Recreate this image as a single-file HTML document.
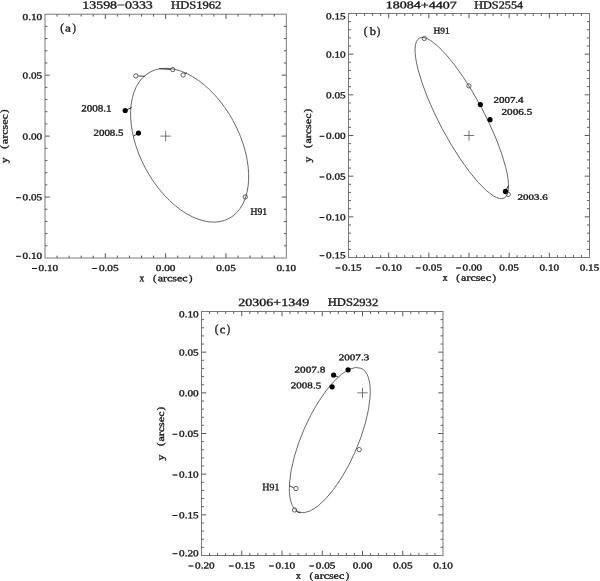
<!DOCTYPE html>
<html><head><meta charset="utf-8"><title>Orbits</title><style>
html,body{margin:0;padding:0;background:#fff;width:600px;height:581px;overflow:hidden}
svg{display:block;filter:grayscale(1)}
text{font-family:"Liberation Serif",serif;stroke:#1a1a1a;stroke-width:0.35px}
</style></head><body>
<svg width="600" height="581" viewBox="0 0 600 581">
<rect x="45.0" y="14.2" width="241.30" height="243.80" fill="none" stroke="#7a7a7a" stroke-width="1"/>
<path d="M57.06 258.00v-2.4M57.06 14.20v2.4M69.13 258.00v-2.4M69.13 14.20v2.4M81.19 258.00v-2.4M81.19 14.20v2.4M93.26 258.00v-2.4M93.26 14.20v2.4M105.33 258.00v-4.8M105.33 14.20v4.8M117.39 258.00v-2.4M117.39 14.20v2.4M129.46 258.00v-2.4M129.46 14.20v2.4M141.52 258.00v-2.4M141.52 14.20v2.4M153.58 258.00v-2.4M153.58 14.20v2.4M165.65 258.00v-4.8M165.65 14.20v4.8M177.72 258.00v-2.4M177.72 14.20v2.4M189.78 258.00v-2.4M189.78 14.20v2.4M201.84 258.00v-2.4M201.84 14.20v2.4M213.91 258.00v-2.4M213.91 14.20v2.4M225.97 258.00v-4.8M225.97 14.20v4.8M238.04 258.00v-2.4M238.04 14.20v2.4M250.11 258.00v-2.4M250.11 14.20v2.4M262.17 258.00v-2.4M262.17 14.20v2.4M274.24 258.00v-2.4M274.24 14.20v2.4M45.00 245.81h2.4M286.30 245.81h-2.4M45.00 233.62h2.4M286.30 233.62h-2.4M45.00 221.43h2.4M286.30 221.43h-2.4M45.00 209.24h2.4M286.30 209.24h-2.4M45.00 197.05h4.8M286.30 197.05h-4.8M45.00 184.86h2.4M286.30 184.86h-2.4M45.00 172.67h2.4M286.30 172.67h-2.4M45.00 160.48h2.4M286.30 160.48h-2.4M45.00 148.29h2.4M286.30 148.29h-2.4M45.00 136.10h4.8M286.30 136.10h-4.8M45.00 123.91h2.4M286.30 123.91h-2.4M45.00 111.72h2.4M286.30 111.72h-2.4M45.00 99.53h2.4M286.30 99.53h-2.4M45.00 87.34h2.4M286.30 87.34h-2.4M45.00 75.15h4.8M286.30 75.15h-4.8M45.00 62.96h2.4M286.30 62.96h-2.4M45.00 50.77h2.4M286.30 50.77h-2.4M45.00 38.58h2.4M286.30 38.58h-2.4M45.00 26.39h2.4M286.30 26.39h-2.4" stroke="#5a5a5a" stroke-width="1" fill="none"/>
<rect x="348.5" y="13.5" width="241.00" height="244.00" fill="none" stroke="#7a7a7a" stroke-width="1"/>
<path d="M356.53 257.50v-2.4M356.53 13.50v2.4M364.57 257.50v-2.4M364.57 13.50v2.4M372.60 257.50v-2.4M372.60 13.50v2.4M380.63 257.50v-2.4M380.63 13.50v2.4M388.67 257.50v-4.8M388.67 13.50v4.8M396.70 257.50v-2.4M396.70 13.50v2.4M404.73 257.50v-2.4M404.73 13.50v2.4M412.77 257.50v-2.4M412.77 13.50v2.4M420.80 257.50v-2.4M420.80 13.50v2.4M428.83 257.50v-4.8M428.83 13.50v4.8M436.87 257.50v-2.4M436.87 13.50v2.4M444.90 257.50v-2.4M444.90 13.50v2.4M452.93 257.50v-2.4M452.93 13.50v2.4M460.97 257.50v-2.4M460.97 13.50v2.4M469.00 257.50v-4.8M469.00 13.50v4.8M477.03 257.50v-2.4M477.03 13.50v2.4M485.07 257.50v-2.4M485.07 13.50v2.4M493.10 257.50v-2.4M493.10 13.50v2.4M501.13 257.50v-2.4M501.13 13.50v2.4M509.17 257.50v-4.8M509.17 13.50v4.8M517.20 257.50v-2.4M517.20 13.50v2.4M525.23 257.50v-2.4M525.23 13.50v2.4M533.27 257.50v-2.4M533.27 13.50v2.4M541.30 257.50v-2.4M541.30 13.50v2.4M549.33 257.50v-4.8M549.33 13.50v4.8M557.37 257.50v-2.4M557.37 13.50v2.4M565.40 257.50v-2.4M565.40 13.50v2.4M573.43 257.50v-2.4M573.43 13.50v2.4M581.47 257.50v-2.4M581.47 13.50v2.4M348.50 249.37h2.4M589.50 249.37h-2.4M348.50 241.23h2.4M589.50 241.23h-2.4M348.50 233.10h2.4M589.50 233.10h-2.4M348.50 224.97h2.4M589.50 224.97h-2.4M348.50 216.83h4.8M589.50 216.83h-4.8M348.50 208.70h2.4M589.50 208.70h-2.4M348.50 200.57h2.4M589.50 200.57h-2.4M348.50 192.43h2.4M589.50 192.43h-2.4M348.50 184.30h2.4M589.50 184.30h-2.4M348.50 176.17h4.8M589.50 176.17h-4.8M348.50 168.03h2.4M589.50 168.03h-2.4M348.50 159.90h2.4M589.50 159.90h-2.4M348.50 151.77h2.4M589.50 151.77h-2.4M348.50 143.63h2.4M589.50 143.63h-2.4M348.50 135.50h4.8M589.50 135.50h-4.8M348.50 127.37h2.4M589.50 127.37h-2.4M348.50 119.23h2.4M589.50 119.23h-2.4M348.50 111.10h2.4M589.50 111.10h-2.4M348.50 102.97h2.4M589.50 102.97h-2.4M348.50 94.83h4.8M589.50 94.83h-4.8M348.50 86.70h2.4M589.50 86.70h-2.4M348.50 78.57h2.4M589.50 78.57h-2.4M348.50 70.43h2.4M589.50 70.43h-2.4M348.50 62.30h2.4M589.50 62.30h-2.4M348.50 54.17h4.8M589.50 54.17h-4.8M348.50 46.03h2.4M589.50 46.03h-2.4M348.50 37.90h2.4M589.50 37.90h-2.4M348.50 29.77h2.4M589.50 29.77h-2.4M348.50 21.63h2.4M589.50 21.63h-2.4" stroke="#5a5a5a" stroke-width="1" fill="none"/>
<rect x="201.5" y="311.5" width="241.50" height="244.00" fill="none" stroke="#7a7a7a" stroke-width="1"/>
<path d="M209.55 555.50v-2.4M209.55 311.50v2.4M217.60 555.50v-2.4M217.60 311.50v2.4M225.65 555.50v-2.4M225.65 311.50v2.4M233.70 555.50v-2.4M233.70 311.50v2.4M241.75 555.50v-4.8M241.75 311.50v4.8M249.80 555.50v-2.4M249.80 311.50v2.4M257.85 555.50v-2.4M257.85 311.50v2.4M265.90 555.50v-2.4M265.90 311.50v2.4M273.95 555.50v-2.4M273.95 311.50v2.4M282.00 555.50v-4.8M282.00 311.50v4.8M290.05 555.50v-2.4M290.05 311.50v2.4M298.10 555.50v-2.4M298.10 311.50v2.4M306.15 555.50v-2.4M306.15 311.50v2.4M314.20 555.50v-2.4M314.20 311.50v2.4M322.25 555.50v-4.8M322.25 311.50v4.8M330.30 555.50v-2.4M330.30 311.50v2.4M338.35 555.50v-2.4M338.35 311.50v2.4M346.40 555.50v-2.4M346.40 311.50v2.4M354.45 555.50v-2.4M354.45 311.50v2.4M362.50 555.50v-4.8M362.50 311.50v4.8M370.55 555.50v-2.4M370.55 311.50v2.4M378.60 555.50v-2.4M378.60 311.50v2.4M386.65 555.50v-2.4M386.65 311.50v2.4M394.70 555.50v-2.4M394.70 311.50v2.4M402.75 555.50v-4.8M402.75 311.50v4.8M410.80 555.50v-2.4M410.80 311.50v2.4M418.85 555.50v-2.4M418.85 311.50v2.4M426.90 555.50v-2.4M426.90 311.50v2.4M434.95 555.50v-2.4M434.95 311.50v2.4M201.50 547.37h2.4M443.00 547.37h-2.4M201.50 539.23h2.4M443.00 539.23h-2.4M201.50 531.10h2.4M443.00 531.10h-2.4M201.50 522.97h2.4M443.00 522.97h-2.4M201.50 514.83h4.8M443.00 514.83h-4.8M201.50 506.70h2.4M443.00 506.70h-2.4M201.50 498.57h2.4M443.00 498.57h-2.4M201.50 490.43h2.4M443.00 490.43h-2.4M201.50 482.30h2.4M443.00 482.30h-2.4M201.50 474.17h4.8M443.00 474.17h-4.8M201.50 466.03h2.4M443.00 466.03h-2.4M201.50 457.90h2.4M443.00 457.90h-2.4M201.50 449.77h2.4M443.00 449.77h-2.4M201.50 441.63h2.4M443.00 441.63h-2.4M201.50 433.50h4.8M443.00 433.50h-4.8M201.50 425.37h2.4M443.00 425.37h-2.4M201.50 417.23h2.4M443.00 417.23h-2.4M201.50 409.10h2.4M443.00 409.10h-2.4M201.50 400.97h2.4M443.00 400.97h-2.4M201.50 392.83h4.8M443.00 392.83h-4.8M201.50 384.70h2.4M443.00 384.70h-2.4M201.50 376.57h2.4M443.00 376.57h-2.4M201.50 368.43h2.4M443.00 368.43h-2.4M201.50 360.30h2.4M443.00 360.30h-2.4M201.50 352.17h4.8M443.00 352.17h-4.8M201.50 344.03h2.4M443.00 344.03h-2.4M201.50 335.90h2.4M443.00 335.90h-2.4M201.50 327.77h2.4M443.00 327.77h-2.4M201.50 319.63h2.4M443.00 319.63h-2.4" stroke="#5a5a5a" stroke-width="1" fill="none"/>
<ellipse cx="189.64" cy="145.21" rx="83.18" ry="49.86" transform="rotate(-118.37 189.64 145.21)" fill="none" stroke="#606060" stroke-width="0.85"/>
<ellipse cx="461.80" cy="118.10" rx="90.50" ry="22.28" transform="rotate(-117.94 461.80 118.10)" fill="none" stroke="#606060" stroke-width="0.85"/>
<ellipse cx="329.79" cy="440.12" rx="78.36" ry="27.93" transform="rotate(-66.42 329.79 440.12)" fill="none" stroke="#606060" stroke-width="0.85"/>
<path d="M160.45 136.10h10.4M165.65 130.90v10.4" stroke="#666" stroke-width="0.9"/>
<path d="M463.80 135.50h10.4M469.00 130.30v10.4" stroke="#666" stroke-width="0.9"/>
<path d="M357.30 392.83h10.4M362.50 387.63v10.4" stroke="#666" stroke-width="0.9"/>
<line x1="138.2" y1="76.0" x2="144.8" y2="76.3" stroke="#222" stroke-width="0.9"/>
<circle cx="135.8" cy="75.9" r="2.15" fill="none" stroke="#3a3a3a" stroke-width="0.8"/>
<line x1="159" y1="68.7" x2="170.5" y2="69.4" stroke="#222" stroke-width="0.9"/>
<circle cx="172.8" cy="69.6" r="2.15" fill="none" stroke="#3a3a3a" stroke-width="0.8"/>
<line x1="185.2" y1="73.6" x2="186.7" y2="72.8" stroke="#222" stroke-width="0.9"/>
<circle cx="183.1" cy="75.0" r="2.15" fill="none" stroke="#3a3a3a" stroke-width="0.8"/>
<circle cx="245.3" cy="196.9" r="2.15" fill="none" stroke="#3a3a3a" stroke-width="0.8"/>
<line x1="125.2" y1="110.5" x2="131.6" y2="107.6" stroke="#222" stroke-width="0.9"/>
<circle cx="125.2" cy="110.5" r="2.6" fill="#000"/>
<line x1="138.5" y1="133.1" x2="133.4" y2="136.2" stroke="#222" stroke-width="0.9"/>
<circle cx="138.5" cy="133.1" r="2.6" fill="#000"/>
<circle cx="424.3" cy="38.5" r="2.15" fill="none" stroke="#3a3a3a" stroke-width="0.8"/>
<circle cx="468.9" cy="85.9" r="2.15" fill="none" stroke="#3a3a3a" stroke-width="0.8"/>
<circle cx="480.4" cy="104.6" r="2.6" fill="#000"/>
<circle cx="490.0" cy="119.7" r="2.6" fill="#000"/>
<line x1="505.5" y1="191.4" x2="508.3" y2="185.8" stroke="#222" stroke-width="0.9"/>
<circle cx="505.5" cy="191.4" r="2.6" fill="#000"/>
<circle cx="508.2" cy="194.4" r="2.15" fill="none" stroke="#3a3a3a" stroke-width="0.8"/>
<circle cx="348.1" cy="369.8" r="2.6" fill="#000"/>
<line x1="333.6" y1="375.0" x2="338.3" y2="377.0" stroke="#222" stroke-width="0.9"/>
<circle cx="333.6" cy="375.0" r="2.6" fill="#000"/>
<circle cx="332.1" cy="386.8" r="2.6" fill="#000"/>
<circle cx="359.2" cy="449.6" r="2.15" fill="none" stroke="#3a3a3a" stroke-width="0.8"/>
<line x1="289.3" y1="485.5" x2="293.7" y2="488.0" stroke="#222" stroke-width="0.9"/>
<circle cx="296.0" cy="488.5" r="2.15" fill="none" stroke="#3a3a3a" stroke-width="0.8"/>
<line x1="296.5" y1="511.5" x2="300.5" y2="513.0" stroke="#222" stroke-width="0.9"/>
<circle cx="294.5" cy="510.0" r="2.15" fill="none" stroke="#3a3a3a" stroke-width="0.8"/>
<g fill="#1a1a1a">
<text transform="translate(38.55,270.97) scale(1.220,1) matrix(1,0.001,0,1,0,0)" font-size="9.20">0.10</text>
<text transform="translate(31.74,272.41) scale(1.052,1.3) matrix(1,0.001,0,1,0,0)" font-size="9.20">−</text>
<text transform="translate(98.89,270.97) scale(1.220,1) matrix(1,0.001,0,1,0,0)" font-size="9.20">0.05</text>
<text transform="translate(92.08,272.41) scale(1.052,1.3) matrix(1,0.001,0,1,0,0)" font-size="9.20">−</text>
<text transform="translate(155.83,270.97) scale(1.220,1) matrix(1,0.001,0,1,0,0)" font-size="9.20">0.00</text>
<text transform="translate(216.17,270.97) scale(1.220,1) matrix(1,0.001,0,1,0,0)" font-size="9.20">0.05</text>
<text transform="translate(276.48,270.97) scale(1.220,1) matrix(1,0.001,0,1,0,0)" font-size="9.20">0.10</text>
<text transform="translate(22.53,258.81) scale(1.220,1) matrix(1,0.001,0,1,0,0)" font-size="9.20">0.10</text>
<text transform="translate(15.72,260.25) scale(1.052,1.3) matrix(1,0.001,0,1,0,0)" font-size="9.20">−</text>
<text transform="translate(22.56,200.36) scale(1.220,1) matrix(1,0.001,0,1,0,0)" font-size="9.20">0.05</text>
<text transform="translate(15.74,201.80) scale(1.052,1.3) matrix(1,0.001,0,1,0,0)" font-size="9.20">−</text>
<text transform="translate(22.53,139.41) scale(1.220,1) matrix(1,0.001,0,1,0,0)" font-size="9.20">0.00</text>
<text transform="translate(22.56,78.46) scale(1.220,1) matrix(1,0.001,0,1,0,0)" font-size="9.20">0.05</text>
<text transform="translate(22.53,20.01) scale(1.220,1) matrix(1,0.001,0,1,0,0)" font-size="9.20">0.10</text>
<text transform="translate(152.92,281.26) scale(1.130,1) matrix(1,0.001,0,1,0,0)" font-size="9.37">(</text>
<text transform="translate(157.73,281.26) scale(1.276,1) matrix(1,0.001,0,1,0,0)" font-size="9.38">arcsec</text>
<text transform="translate(189.06,281.26) scale(1.119,1) matrix(1,0.001,0,1,0,0)" font-size="9.37">)</text>
<text transform="translate(139.41,281.35) scale(0.963,1) matrix(1,0.001,0,1,0,0)" font-size="9.78">x</text>
<text transform="translate(7.09,113.09) rotate(-90) scale(1.081,1) matrix(1,0.001,0,1,0,0)" font-size="9.70">)</text>
<text transform="translate(7.46,144.17) rotate(-90) scale(1.285,1) matrix(1,0.001,0,1,0,0)" font-size="9.38">arcsec</text>
<text transform="translate(7.09,148.63) rotate(-90) scale(1.092,1) matrix(1,0.001,0,1,0,0)" font-size="9.70">(</text>
<text transform="translate(7.55,163.20) rotate(-90) scale(1.208,1) matrix(1,0.001,0,1,0,0)" font-size="9.78">y</text>
</g>
<g fill="#1a1a1a">
<text transform="translate(342.07,270.47) scale(1.220,1) matrix(1,0.001,0,1,0,0)" font-size="9.20">0.15</text>
<text transform="translate(335.26,271.91) scale(1.052,1.3) matrix(1,0.001,0,1,0,0)" font-size="9.20">−</text>
<text transform="translate(382.22,270.47) scale(1.220,1) matrix(1,0.001,0,1,0,0)" font-size="9.20">0.10</text>
<text transform="translate(375.41,271.91) scale(1.052,1.3) matrix(1,0.001,0,1,0,0)" font-size="9.20">−</text>
<text transform="translate(422.40,270.47) scale(1.220,1) matrix(1,0.001,0,1,0,0)" font-size="9.20">0.05</text>
<text transform="translate(415.59,271.91) scale(1.052,1.3) matrix(1,0.001,0,1,0,0)" font-size="9.20">−</text>
<text transform="translate(462.55,270.47) scale(1.220,1) matrix(1,0.001,0,1,0,0)" font-size="9.20">0.00</text>
<text transform="translate(455.74,271.91) scale(1.052,1.3) matrix(1,0.001,0,1,0,0)" font-size="9.20">−</text>
<text transform="translate(499.36,270.47) scale(1.220,1) matrix(1,0.001,0,1,0,0)" font-size="9.20">0.05</text>
<text transform="translate(539.51,270.47) scale(1.220,1) matrix(1,0.001,0,1,0,0)" font-size="9.20">0.10</text>
<text transform="translate(579.69,270.47) scale(1.220,1) matrix(1,0.001,0,1,0,0)" font-size="9.20">0.15</text>
<text transform="translate(326.06,258.31) scale(1.220,1) matrix(1,0.001,0,1,0,0)" font-size="9.20">0.15</text>
<text transform="translate(319.24,259.75) scale(1.052,1.3) matrix(1,0.001,0,1,0,0)" font-size="9.20">−</text>
<text transform="translate(326.03,220.15) scale(1.220,1) matrix(1,0.001,0,1,0,0)" font-size="9.20">0.10</text>
<text transform="translate(319.22,221.58) scale(1.052,1.3) matrix(1,0.001,0,1,0,0)" font-size="9.20">−</text>
<text transform="translate(326.06,179.48) scale(1.220,1) matrix(1,0.001,0,1,0,0)" font-size="9.20">0.05</text>
<text transform="translate(319.24,180.92) scale(1.052,1.3) matrix(1,0.001,0,1,0,0)" font-size="9.20">−</text>
<text transform="translate(326.03,138.81) scale(1.220,1) matrix(1,0.001,0,1,0,0)" font-size="9.20">0.00</text>
<text transform="translate(319.22,140.25) scale(1.052,1.3) matrix(1,0.001,0,1,0,0)" font-size="9.20">−</text>
<text transform="translate(326.06,98.15) scale(1.220,1) matrix(1,0.001,0,1,0,0)" font-size="9.20">0.05</text>
<text transform="translate(326.03,57.48) scale(1.220,1) matrix(1,0.001,0,1,0,0)" font-size="9.20">0.10</text>
<text transform="translate(326.06,19.31) scale(1.220,1) matrix(1,0.001,0,1,0,0)" font-size="9.20">0.15</text>
<text transform="translate(456.27,280.76) scale(1.130,1) matrix(1,0.001,0,1,0,0)" font-size="9.37">(</text>
<text transform="translate(461.08,280.76) scale(1.276,1) matrix(1,0.001,0,1,0,0)" font-size="9.38">arcsec</text>
<text transform="translate(492.41,280.76) scale(1.119,1) matrix(1,0.001,0,1,0,0)" font-size="9.37">)</text>
<text transform="translate(442.76,280.85) scale(0.963,1) matrix(1,0.001,0,1,0,0)" font-size="9.78">x</text>
<text transform="translate(310.59,112.49) rotate(-90) scale(1.081,1) matrix(1,0.001,0,1,0,0)" font-size="9.70">)</text>
<text transform="translate(310.96,143.57) rotate(-90) scale(1.285,1) matrix(1,0.001,0,1,0,0)" font-size="9.38">arcsec</text>
<text transform="translate(310.59,148.03) rotate(-90) scale(1.092,1) matrix(1,0.001,0,1,0,0)" font-size="9.70">(</text>
<text transform="translate(311.05,162.60) rotate(-90) scale(1.208,1) matrix(1,0.001,0,1,0,0)" font-size="9.78">y</text>
</g>
<g fill="#1a1a1a">
<text transform="translate(195.05,568.47) scale(1.220,1) matrix(1,0.001,0,1,0,0)" font-size="9.20">0.20</text>
<text transform="translate(188.24,569.91) scale(1.052,1.3) matrix(1,0.001,0,1,0,0)" font-size="9.20">−</text>
<text transform="translate(235.32,568.47) scale(1.220,1) matrix(1,0.001,0,1,0,0)" font-size="9.20">0.15</text>
<text transform="translate(228.51,569.91) scale(1.052,1.3) matrix(1,0.001,0,1,0,0)" font-size="9.20">−</text>
<text transform="translate(275.55,568.47) scale(1.220,1) matrix(1,0.001,0,1,0,0)" font-size="9.20">0.10</text>
<text transform="translate(268.74,569.91) scale(1.052,1.3) matrix(1,0.001,0,1,0,0)" font-size="9.20">−</text>
<text transform="translate(315.82,568.47) scale(1.220,1) matrix(1,0.001,0,1,0,0)" font-size="9.20">0.05</text>
<text transform="translate(309.01,569.91) scale(1.052,1.3) matrix(1,0.001,0,1,0,0)" font-size="9.20">−</text>
<text transform="translate(352.68,568.47) scale(1.220,1) matrix(1,0.001,0,1,0,0)" font-size="9.20">0.00</text>
<text transform="translate(392.94,568.47) scale(1.220,1) matrix(1,0.001,0,1,0,0)" font-size="9.20">0.05</text>
<text transform="translate(433.18,568.47) scale(1.220,1) matrix(1,0.001,0,1,0,0)" font-size="9.20">0.10</text>
<text transform="translate(179.03,556.31) scale(1.220,1) matrix(1,0.001,0,1,0,0)" font-size="9.20">0.20</text>
<text transform="translate(172.22,557.75) scale(1.052,1.3) matrix(1,0.001,0,1,0,0)" font-size="9.20">−</text>
<text transform="translate(179.06,518.15) scale(1.220,1) matrix(1,0.001,0,1,0,0)" font-size="9.20">0.15</text>
<text transform="translate(172.24,519.58) scale(1.052,1.3) matrix(1,0.001,0,1,0,0)" font-size="9.20">−</text>
<text transform="translate(179.03,477.48) scale(1.220,1) matrix(1,0.001,0,1,0,0)" font-size="9.20">0.10</text>
<text transform="translate(172.22,478.92) scale(1.052,1.3) matrix(1,0.001,0,1,0,0)" font-size="9.20">−</text>
<text transform="translate(179.06,436.81) scale(1.220,1) matrix(1,0.001,0,1,0,0)" font-size="9.20">0.05</text>
<text transform="translate(172.24,438.25) scale(1.052,1.3) matrix(1,0.001,0,1,0,0)" font-size="9.20">−</text>
<text transform="translate(179.03,396.15) scale(1.220,1) matrix(1,0.001,0,1,0,0)" font-size="9.20">0.00</text>
<text transform="translate(179.06,355.48) scale(1.220,1) matrix(1,0.001,0,1,0,0)" font-size="9.20">0.05</text>
<text transform="translate(179.03,317.31) scale(1.220,1) matrix(1,0.001,0,1,0,0)" font-size="9.20">0.10</text>
<text transform="translate(309.52,578.76) scale(1.130,1) matrix(1,0.001,0,1,0,0)" font-size="9.37">(</text>
<text transform="translate(314.33,578.76) scale(1.276,1) matrix(1,0.001,0,1,0,0)" font-size="9.38">arcsec</text>
<text transform="translate(345.66,578.76) scale(1.119,1) matrix(1,0.001,0,1,0,0)" font-size="9.37">)</text>
<text transform="translate(296.01,578.85) scale(0.963,1) matrix(1,0.001,0,1,0,0)" font-size="9.78">x</text>
<text transform="translate(163.59,410.49) rotate(-90) scale(1.081,1) matrix(1,0.001,0,1,0,0)" font-size="9.70">)</text>
<text transform="translate(163.96,441.57) rotate(-90) scale(1.285,1) matrix(1,0.001,0,1,0,0)" font-size="9.38">arcsec</text>
<text transform="translate(163.59,446.03) rotate(-90) scale(1.092,1) matrix(1,0.001,0,1,0,0)" font-size="9.70">(</text>
<text transform="translate(164.05,460.60) rotate(-90) scale(1.208,1) matrix(1,0.001,0,1,0,0)" font-size="9.78">y</text>
</g>
<g fill="#1a1a1a">
<text transform="translate(82.23,8.44) scale(1.292,1) matrix(1,0.001,0,1,0,0)" font-size="10.81">13598−0333</text>
<text transform="translate(171.07,8.50) scale(1.170,1) matrix(1,0.001,0,1,0,0)" font-size="10.76">HDS1962</text>
<text transform="translate(385.72,8.35) scale(1.374,1) matrix(1,0.001,0,1,0,0)" font-size="10.22">18084+4407</text>
<text transform="translate(474.18,8.50) scale(1.139,1) matrix(1,0.001,0,1,0,0)" font-size="10.76">HDS2554</text>
<text transform="translate(238.32,305.94) scale(1.261,1) matrix(1,0.001,0,1,0,0)" font-size="11.11">20306+1349</text>
<text transform="translate(327.77,305.85) scale(1.132,1) matrix(1,0.001,0,1,0,0)" font-size="11.15">HDS2932</text>
<text transform="translate(60.24,31.48) scale(0.960,1) matrix(1,0.001,0,1,0,0)" font-size="11.85">(</text>
<text transform="translate(65.03,31.40) scale(1.276,1) matrix(1,0.001,0,1,0,0)" font-size="10.42">a</text>
<text transform="translate(72.52,31.48) scale(0.869,1) matrix(1,0.001,0,1,0,0)" font-size="11.85">)</text>
<text transform="translate(363.74,34.73) scale(0.960,1) matrix(1,0.001,0,1,0,0)" font-size="11.85">(</text>
<text transform="translate(369.75,35.04) scale(1.100,1) matrix(1,0.001,0,1,0,0)" font-size="11.21">b</text>
<text transform="translate(376.71,34.73) scale(0.885,1) matrix(1,0.001,0,1,0,0)" font-size="11.85">)</text>
<text transform="translate(214.74,332.67) scale(0.938,1) matrix(1,0.001,0,1,0,0)" font-size="12.12">(</text>
<text transform="translate(219.78,333.23) scale(1.074,1) matrix(1,0.001,0,1,0,0)" font-size="11.67">c</text>
<text transform="translate(226.82,332.67) scale(0.833,1) matrix(1,0.001,0,1,0,0)" font-size="12.12">)</text>
<text transform="translate(81.15,111.55) scale(1.150,1) matrix(1,0.001,0,1,0,0)" font-size="9.63">2008.1</text>
<text transform="translate(93.46,135.76) scale(1.193,1) matrix(1,0.001,0,1,0,0)" font-size="9.19">2008.5</text>
<text transform="translate(250.46,214.75) scale(0.987,1) matrix(1,0.001,0,1,0,0)" font-size="9.77">H91</text>
<text transform="translate(433.57,33.50) scale(1.061,1) matrix(1,0.001,0,1,0,0)" font-size="8.78">H91</text>
<text transform="translate(493.46,102.66) scale(1.255,1) matrix(1,0.001,0,1,0,0)" font-size="8.74">2007.4</text>
<text transform="translate(501.45,114.66) scale(1.284,1) matrix(1,0.001,0,1,0,0)" font-size="8.74">2006.5</text>
<text transform="translate(517.55,199.67) scale(1.379,1) matrix(1,0.001,0,1,0,0)" font-size="8.00">2003.6</text>
<text transform="translate(338.75,360.16) scale(1.266,1) matrix(1,0.001,0,1,0,0)" font-size="8.74">2007.3</text>
<text transform="translate(294.49,372.46) scale(1.285,1) matrix(1,0.001,0,1,0,0)" font-size="8.74">2007.8</text>
<text transform="translate(290.75,388.36) scale(1.266,1) matrix(1,0.001,0,1,0,0)" font-size="8.74">2008.5</text>
<text transform="translate(262.35,490.35) scale(0.994,1) matrix(1,0.001,0,1,0,0)" font-size="9.92">H91</text>
</g>
</svg>
</body></html>
